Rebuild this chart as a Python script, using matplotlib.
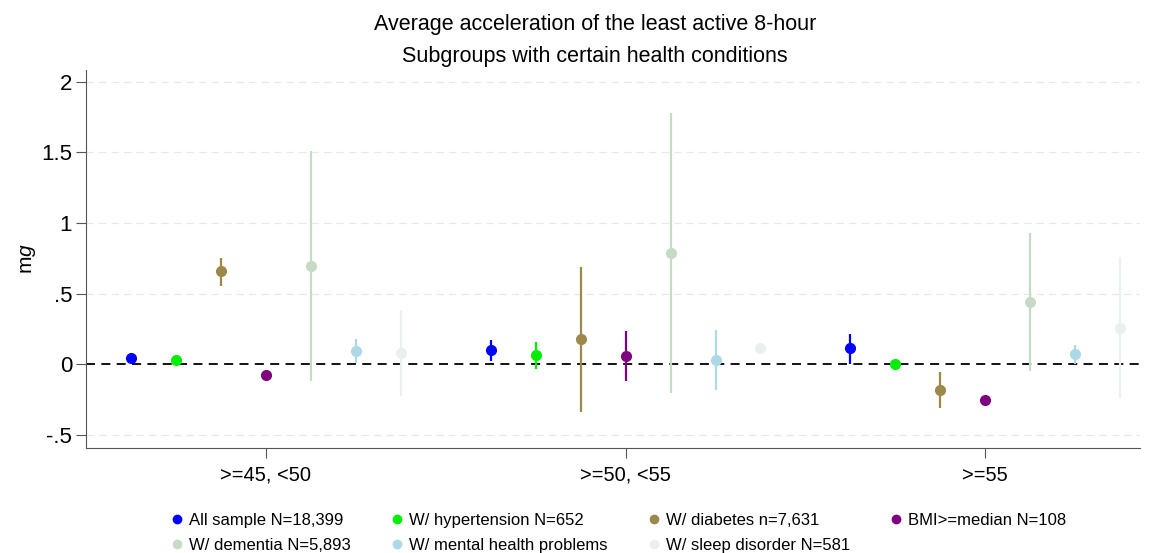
import matplotlib
matplotlib.use("Agg")
import matplotlib.pyplot as plt
from matplotlib.lines import Line2D
import numpy as np

plt.rcParams["font.family"] = ["Liberation Sans", "DejaVu Sans"]
plt.rcParams["mathtext.fontset"] = "custom"
plt.rcParams["mathtext.rm"] = "Liberation Sans"
plt.rcParams["mathtext.it"] = "Liberation Sans:italic"

groups = [">=45, <50", ">=50, <55", ">=55"]
series = [
    "All sample N=18,399",
    "W/ hypertension N=652",
    "W/ diabetes n=7,631",
    "BMI>=median N=108",
    "W/ dementia N=5,893",
    "W/ mental health problems",
    "W/ sleep disorder N=581",
]
colors = ["#0000ff", "#00ee00", "#9c8848", "#800080", "#c6dbc6", "#add8e6", "#eaf0f0"]

# point estimates, rows = series, cols = groups
est = [
    [0.047, 0.099, 0.113],
    [0.030, 0.064, 0.005],
    [0.658, 0.177, -0.183],
    [-0.071, 0.059, -0.254],
    [0.698, 0.788, 0.442],
    [0.094, 0.035, 0.071],
    [0.083, 0.113, 0.260],
]
lo = [
    [0.030, 0.023, 0.005],
    [0.012, -0.031, -0.005],
    [0.556, -0.336, -0.308],
    [-0.090, -0.119, -0.262],
    [-0.114, -0.201, -0.043],
    [0.011, -0.178, 0.005],
    [-0.225, 0.071, -0.237],
]
hi = [
    [0.065, 0.172, 0.218],
    [0.050, 0.158, 0.015],
    [0.753, 0.691, -0.055],
    [-0.052, 0.234, -0.246],
    [1.508, 1.775, 0.928],
    [0.182, 0.246, 0.137],
    [0.383, 0.154, 0.757],
]

fig = plt.figure(figsize=(11.55, 5.53), dpi=100)
ax = fig.add_axes([0.0745, 0.19, 0.9125, 0.683])

gx = np.arange(1, len(groups) + 1)
offsets = (np.arange(len(series)) - 3) * 0.125

for i, name in enumerate(series):
    x = gx + offsets[i]
    ax.vlines(x, lo[i], hi[i], color=colors[i], linewidth=1.6, zorder=3)
    ax.plot(x, est[i], "o", color=colors[i], markersize=7, zorder=4)

ax.axhline(0, color="black", linestyle=(0, (5, 3.5)), linewidth=1.3, zorder=2)
for yv in [-0.5, 0.5, 1, 1.5, 2]:
    ax.axhline(yv, color="#e8e8e8", linestyle=(0, (6, 4)), linewidth=0.9, zorder=1)

ax.set_xlim(0.5, 3.43)
ax.set_ylim(-0.59, 2.08)
ax.set_xticks(gx)
ax.set_xticklabels(groups, fontsize=14.5)
ax.set_yticks([-0.5, 0, 0.5, 1, 1.5, 2])
ax.set_yticklabels(["-.5", "0", ".5", "1", "1.5", "2"], fontsize=16)
ax.set_ylabel("m$\\it{g}$", fontsize=15, labelpad=2)
for s in ["top", "right"]:
    ax.spines[s].set_visible(False)
for s in ["left", "bottom"]:
    ax.spines[s].set_color("#555555")
ax.tick_params(color="#555555", length=7, pad=3)
ax.tick_params(axis="x", pad=6)

fig.text(0.515, 0.9458, "Average acceleration of the least active 8-hour",
         ha="center", va="baseline", fontsize=15.5)
fig.text(0.515, 0.888, "Subgroups with certain health conditions",
         ha="center", va="baseline", fontsize=15.5)

handles = [Line2D([], [], marker="o", linestyle="", color=c, markersize=6) for c in colors]
order = [0, 4, 1, 5, 2, 6, 3]
fig.legend([handles[k] for k in order], [series[k] for k in order],
           loc="center", bbox_to_anchor=(0.5345, 0.037), ncol=4, frameon=False,
           fontsize=12, handletextpad=0.2, columnspacing=2.3,
           labelspacing=0.6, handlelength=1.0)

fig.savefig("out.png", dpi=100, facecolor="white")
